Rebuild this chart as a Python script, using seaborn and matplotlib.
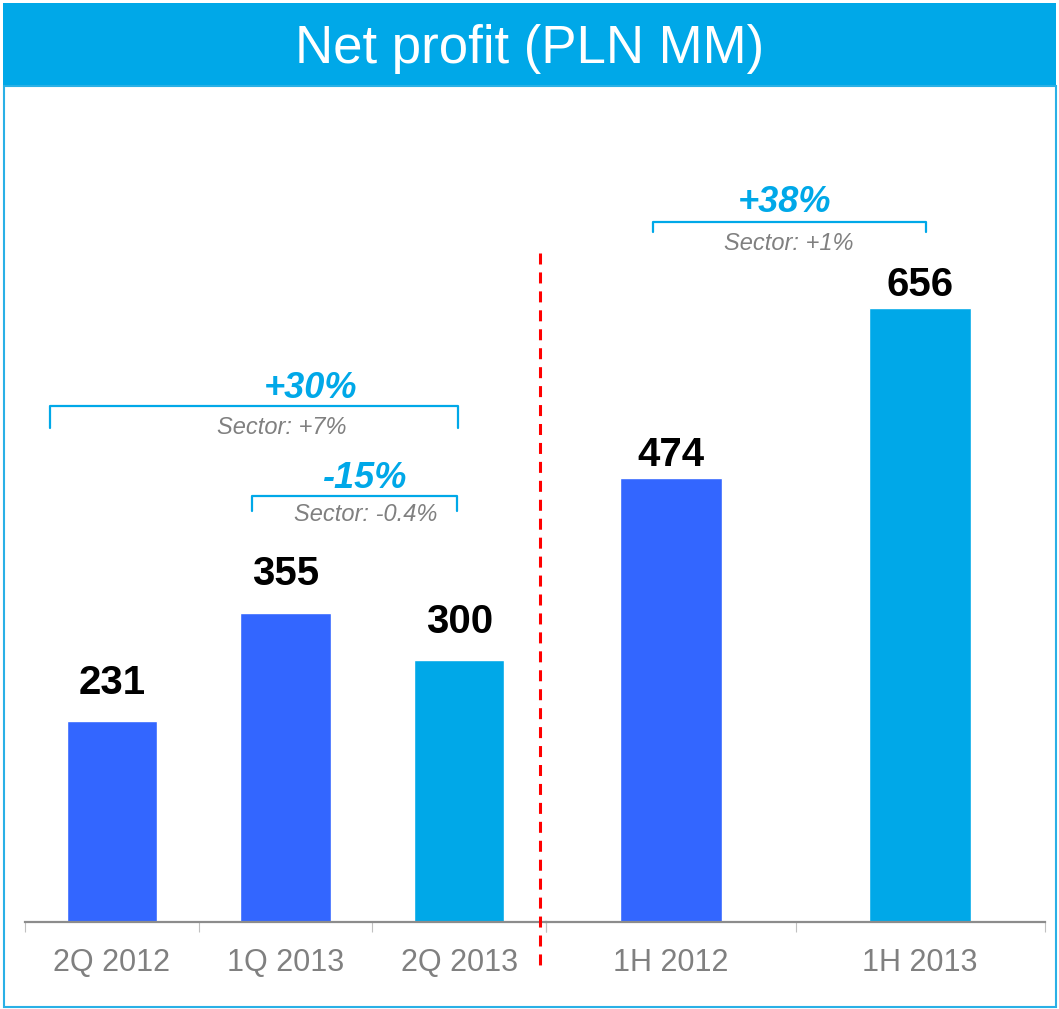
import matplotlib
matplotlib.use("Agg")
import matplotlib.pyplot as plt
import seaborn as sns
import pandas as pd
from matplotlib.patches import Rectangle
from matplotlib.ticker import FixedLocator

# ---- data ----
quarter_labels = ["2Q 2012", "1Q 2013", "2Q 2013"]
quarter_values = [231, 355, 300]
half_labels = ["1H 2012", "1H 2013"]
half_values = [474, 656]
title = "Net profit (PLN MM)"
growth_labels = ["+30%", "-15%", "+38%"]
sector_labels = ["Sector: +7%", "Sector: -0.4%", "Sector: +1%"]

DARK = "#3366FF"
LIGHT = "#00A8E8"
GRAY = "#808080"
quarter_colors = [DARK, DARK, LIGHT]
half_colors = [DARK, LIGHT]

sns.set_theme(style="white")
plt.rcParams["font.family"] = ["Liberation Sans", "DejaVu Sans"]

W, H = 1059, 1009
fig = plt.figure(figsize=(W / 100, H / 100), dpi=100)

def px_rect(x0, x1, ybot, ytop):
    return [x0 / W, 1 - ybot / H, (x1 - x0) / W, (ybot - ytop) / H]

ax_l = fig.add_axes(px_rect(25, 546, 922, 100))
ax_r = fig.add_axes(px_rect(546, 1045, 922, 100))

df_q = pd.DataFrame({"period": quarter_labels, "value": quarter_values})
df_h = pd.DataFrame({"period": half_labels, "value": half_values})

sns.barplot(data=df_q, x="period", y="value", hue="period", palette=quarter_colors,
            width=0.52, saturation=1, legend=False, ax=ax_l)
sns.barplot(data=df_h, x="period", y="value", hue="period", palette=half_colors,
            width=0.41, saturation=1, legend=False, ax=ax_r)

ax_l.set_ylim(0, 943)
ax_r.set_ylim(0, 878)
ax_l.set_xlim(-0.5, 2.5)
ax_r.set_xlim(-0.5, 1.5)

for ax, vals, off in [(ax_l, quarter_values, 19.5), (ax_r, half_values, 8.5)]:
    ax.set_xlabel("")
    ax.set_ylabel("")
    ax.set_yticks([])
    for s in ["top", "left", "right"]:
        ax.spines[s].set_visible(False)
    ax.spines["bottom"].set_color("#8C8C8C")
    ax.spines["bottom"].set_linewidth(1.6)
    ax.patch.set_alpha(0)
    n = len(vals)
    ax.xaxis.set_minor_locator(FixedLocator([i - 0.5 for i in range(n + 1)]))
    ax.tick_params(axis="x", which="major", length=0, pad=19, labelsize=22, labelcolor=GRAY)
    ax.tick_params(axis="x", which="minor", length=7.5, width=0.8, color="#C0C0C0", direction="out", bottom=True)
    for patch, v in zip(ax.patches, vals):
        cx = patch.get_x() + patch.get_width() / 2
        ax.annotate(f"{v}", xy=(cx, v), xytext=(0, off), textcoords="offset points",
                    ha="center", va="baseline", fontsize=29, fontweight="bold", color="black")

# ---- overlay for decorations (pixel coordinates) ----
ov = fig.add_axes([0, 0, 1, 1], zorder=10)
ov.set_xlim(0, W)
ov.set_ylim(H, 0)
ov.axis("off")
ov.patch.set_alpha(0)

ov.add_patch(Rectangle((3, 3), 1053, 83, facecolor=LIGHT, edgecolor="none"))
ov.add_patch(Rectangle((4, 86), 1052, 921, facecolor="none", edgecolor="#2AB0E6", linewidth=1.5))
ov.text(530, 63, title, ha="center", va="baseline", fontsize=38, color="white")

# dashed separator
ov.plot([540, 540], [253, 970], color="#FF0000", linewidth=2.2, linestyle=(0, (3.6, 2.6)))

brackets = [
    (50, 458, 405.7, 428),
    (252, 457, 496, 511),
    (653, 926, 222, 232),
]
growth_pos = [(311, 398), (364.5, 488), (784.5, 212)]
sector_pos = [(282, 434), (365.5, 521), (788.5, 250)]

for (x0, x1, yt, yb) in brackets:
    ov.plot([x0, x0, x1, x1], [yb, yt, yt, yb], color=LIGHT, linewidth=1.6,
            solid_joinstyle="round")
for lbl, (x, y) in zip(growth_labels, growth_pos):
    ov.text(x, y, lbl, ha="center", va="baseline", fontsize=26, fontweight="bold",
            fontstyle="italic", color=LIGHT)
for lbl, (x, y) in zip(sector_labels, sector_pos):
    ov.text(x, y, lbl, ha="center", va="baseline", fontsize=17, fontstyle="italic", color=GRAY)

fig.savefig("out.png", dpi=100, facecolor="white")
